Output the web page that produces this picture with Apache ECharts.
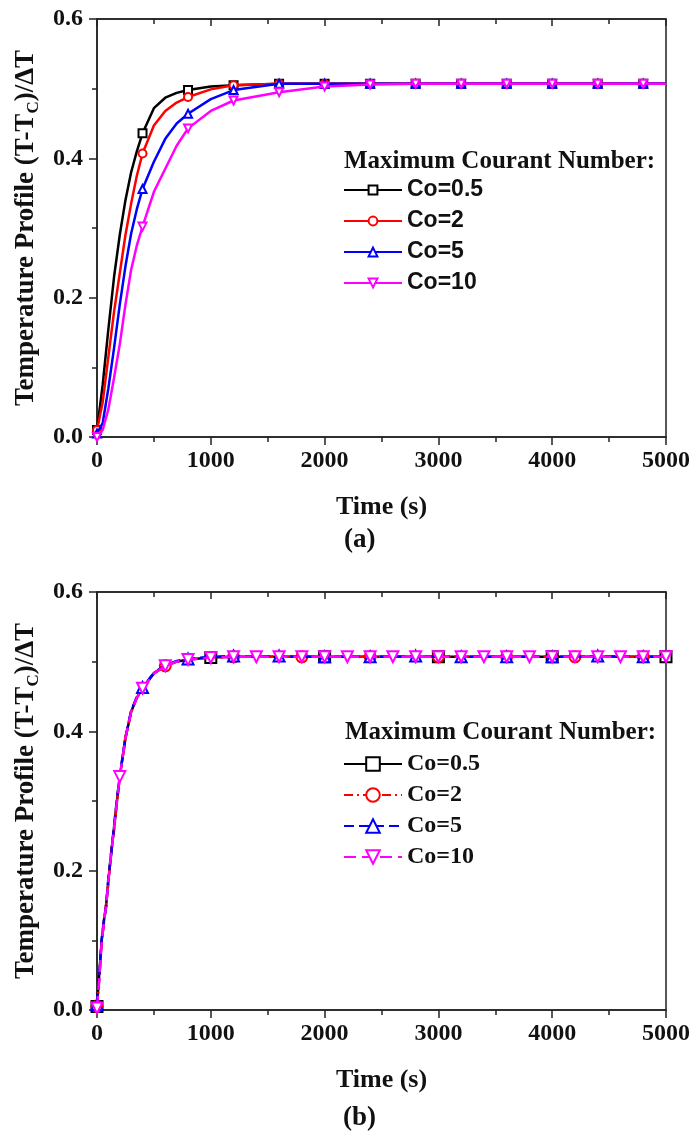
<!DOCTYPE html>
<html><head><meta charset="utf-8">
<script src="https://cdn.jsdelivr.net/npm/echarts/dist/echarts.min.js"></script>
<style>html,body{margin:0;padding:0;background:#fff}#c{width:691px;height:1132px}</style>
</head><body><div id="c"></div>
<script>
// ---------- data ----------
const seriesNames = ['Co=0.5', 'Co=2', 'Co=5', 'Co=10'];
const legendTitle = 'Maximum Courant Number:';
const xTickValues = [0, 1000, 2000, 3000, 4000, 5000];
const yTickValues = [0.0, 0.2, 0.4, 0.6];

// panel (a)
const timeA = [0,50,100,150,200,250,300,350,400,500,600,700,800,1000,1200,1600,2000,2400,2800,3200,3600,4000,4400,4800,5000];
const a_co05 = [0.010,0.075,0.155,0.230,0.290,0.340,0.380,0.410,0.436,0.472,0.487,0.494,0.498,0.503,0.505,0.507,0.507,0.507,0.507,0.507,0.507,0.507,0.507,0.507,0.507];
const a_co2  = [0.010,0.050,0.115,0.180,0.235,0.290,0.335,0.375,0.407,0.447,0.468,0.480,0.488,0.499,0.505,0.507,0.507,0.507,0.507,0.507,0.507,0.507,0.507,0.507,0.507];
const a_co5  = [0.005,0.020,0.070,0.128,0.190,0.245,0.292,0.327,0.356,0.395,0.428,0.450,0.464,0.485,0.498,0.507,0.507,0.507,0.507,0.507,0.507,0.507,0.507,0.507,0.507];
const a_co10 = [0.000,0.010,0.040,0.085,0.133,0.190,0.240,0.275,0.302,0.352,0.385,0.418,0.443,0.468,0.483,0.495,0.503,0.506,0.507,0.507,0.507,0.507,0.507,0.507,0.507];
const a_markerStep = [400, 400, 400, 400];

// panel (b)
const timeB = [0,20,40,60,80,100,125,150,175,200,250,300,350,400,500,600,700,800,1000,1200,1400,1600,1800,2000,2200,2400,2600,2800,3000,3200,3400,3600,3800,4000,4200,4400,4600,4800,5000];
const b_co05 = [0.005,0.052,0.098,0.127,0.150,0.186,0.226,0.262,0.300,0.335,0.390,0.428,0.448,0.462,0.483,0.494,0.500,0.503,0.506,0.507,0.507,0.507,0.507,0.507,0.507,0.507,0.507,0.507,0.507,0.507,0.507,0.507,0.507,0.507,0.507,0.507,0.507,0.507,0.507];
const b_co2  = [0.005,0.045,0.095,0.124,0.152,0.182,0.228,0.258,0.298,0.334,0.392,0.427,0.450,0.462,0.484,0.494,0.500,0.503,0.506,0.507,0.507,0.507,0.507,0.507,0.507,0.507,0.507,0.507,0.507,0.507,0.507,0.507,0.507,0.507,0.507,0.507,0.507,0.507,0.507];
const b_co5  = [0.008,0.048,0.100,0.128,0.148,0.190,0.224,0.265,0.302,0.336,0.391,0.430,0.449,0.463,0.484,0.495,0.501,0.504,0.507,0.508,0.507,0.508,0.507,0.507,0.507,0.507,0.507,0.508,0.507,0.507,0.507,0.507,0.507,0.507,0.507,0.508,0.507,0.507,0.507];
const b_co10 = [0.003,0.044,0.094,0.125,0.149,0.185,0.225,0.261,0.299,0.335,0.390,0.428,0.448,0.462,0.483,0.494,0.500,0.503,0.506,0.507,0.507,0.507,0.507,0.507,0.507,0.507,0.507,0.507,0.507,0.507,0.507,0.507,0.507,0.507,0.507,0.507,0.507,0.507,0.507];
const b_markerStep = [1000, 600, 400, 200];

// ---------- styling ----------
const colors = ['#000000', '#ff0000', '#0000ff', '#ff00ff'];
const symbolsA = ['emptyRect', 'emptyCircle', 'emptyTriangle', 'emptyTriangle'];
const rotates = [0, 0, 0, 180];
const dashB = ['solid', [9, 4, 2, 4], [10, 5], [12, 6]];
const serif = '"Liberation Serif","Times New Roman",serif';
const sans = '"Liberation Sans",Arial,sans-serif';

const GRID_L = 97, GRID_W = 569, GRID_H = 418;
const GRID_TOPS = [19, 592];

function buildSeries(times, vals, step, name, idx, panel) {
  const data = times.map((t, i) => (t % step === 0) ? [t, vals[i]] : { value: [t, vals[i]], symbol: 'none' });
  return {
    type: 'line', name: name, xAxisIndex: panel * 2, yAxisIndex: panel,
    data: data, showSymbol: true, symbol: symbolsA[idx], symbolRotate: rotates[idx],
    symbolSize: panel === 0 ? 8 : 11,
    smooth: false,
    lineStyle: { color: colors[idx], width: 2.5, type: panel === 0 ? 'solid' : dashB[idx] },
    itemStyle: { color: colors[idx], borderColor: colors[idx], borderWidth: 1.5 },
    emphasis: { disabled: true }, silent: true, z: 2 + idx
  };
}

const aVals = [a_co05, a_co2, a_co5, a_co10];
const bVals = [b_co05, b_co2, b_co5, b_co10];
const namesB = seriesNames.map(n => n + ' ');
const series = [];
aVals.forEach((v, i) => series.push(buildSeries(timeA, v, a_markerStep[i], seriesNames[i], i, 0)));
bVals.forEach((v, i) => series.push(buildSeries(timeB, v, b_markerStep[i], namesB[i], i, 1)));

function xAxes(gi) {
  return [{
    type: 'value', gridIndex: gi, position: 'bottom', min: xTickValues[0], max: xTickValues[xTickValues.length - 1],
    interval: xTickValues[1] - xTickValues[0],
    name: 'Time (s)', nameLocation: 'middle', nameGap: 57,
    nameTextStyle: { fontFamily: serif, fontWeight: 'bold', fontSize: 26, color: '#111' },
    axisLine: { show: true, lineStyle: { color: '#222', width: 1.5 } },
    axisTick: { show: true, inside: false, length: 8, lineStyle: { color: '#222', width: 1.5 } },
    minorTick: { show: true, splitNumber: 2, length: 5, lineStyle: { color: '#222', width: 1.5 } },
    axisLabel: { fontFamily: serif, fontWeight: 'bold', fontSize: 24, color: '#111', margin: 12, formatter: v => String(v) },
    splitLine: { show: false }
  }, {
    type: 'value', gridIndex: gi, position: 'top', min: xTickValues[0], max: xTickValues[xTickValues.length - 1],
    interval: xTickValues[1] - xTickValues[0],
    axisLine: { show: true, lineStyle: { color: '#222', width: 1.5 } },
    axisTick: { show: true, inside: true, length: 7, lineStyle: { color: '#222', width: 1.5 } },
    minorTick: { show: true, splitNumber: 2, length: 5, lineStyle: { color: '#222', width: 1.5 } },
    axisLabel: { show: false }, splitLine: { show: false }
  }];
}
function yAxis(gi) {
  return {
    type: 'value', gridIndex: gi, position: 'left', min: yTickValues[0], max: yTickValues[yTickValues.length - 1],
    interval: yTickValues[1] - yTickValues[0],
    name: '{m|Temperature Profile (T-T}{s|C}{m|)/ΔT}', nameLocation: 'middle', nameGap: 51,
    nameTextStyle: {
      rich: {
        m: { fontFamily: serif, fontWeight: 'bold', fontSize: 27, color: '#111', lineHeight: 32 },
        s: { fontFamily: serif, fontWeight: 'bold', fontSize: 17, color: '#111', lineHeight: 18, verticalAlign: 'bottom' }
      }
    },
    axisLine: { show: true, lineStyle: { color: '#222', width: 1.5 } },
    axisTick: { show: true, inside: false, length: 8, lineStyle: { color: '#222', width: 1.5 } },
    minorTick: { show: true, splitNumber: 2, length: 5, lineStyle: { color: '#222', width: 1.5 } },
    axisLabel: { fontFamily: serif, fontWeight: 'bold', fontSize: 24, color: '#111', margin: 14, formatter: v => v.toFixed(1) },
    splitLine: { show: false }
  };
}

const legends = [
  { data: seriesNames, top: 178, font: sans, fs: 23, ih: 11 },
  { data: namesB, top: 752, font: serif, fs: 24, ih: 17 }
].map(l => ({
  data: l.data, orient: 'vertical', left: 343, top: l.top, itemWidth: 58, itemHeight: l.ih, itemGap: 7,
  padding: 0, selectedMode: false,
  formatter: n => n.trim(),
  textStyle: { fontFamily: l.font, fontWeight: 'bold', fontSize: l.fs, lineHeight: 24, color: '#111' }
}));

const option = {
  animation: false,
  backgroundColor: '#fff',
  grid: GRID_TOPS.map(t => ({ left: GRID_L, top: t, width: GRID_W, height: GRID_H, show: true, borderColor: '#222', borderWidth: 1.5, containLabel: false, outerBoundsMode: 'none' })),
  xAxis: [...xAxes(0), ...xAxes(1)],
  yAxis: [yAxis(0), yAxis(1)],
  legend: legends,
  series: series,
  graphic: [
    { type: 'text', left: 344, top: 149, style: { text: legendTitle, font: 'bold 25px ' + serif, fill: '#111' } },
    { type: 'text', left: 345, top: 720, style: { text: legendTitle, font: 'bold 25px ' + serif, fill: '#111' } },
    { type: 'text', left: 344, top: 527, style: { text: '(a)', font: 'bold 27px ' + serif, fill: '#111' } },
    { type: 'text', left: 343, top: 1105, style: { text: '(b)', font: 'bold 27px ' + serif, fill: '#111' } }
  ]
};
const chart = echarts.init(document.getElementById('c'), null, { renderer: 'canvas' });
chart.setOption(option);
</script>
</body></html>
